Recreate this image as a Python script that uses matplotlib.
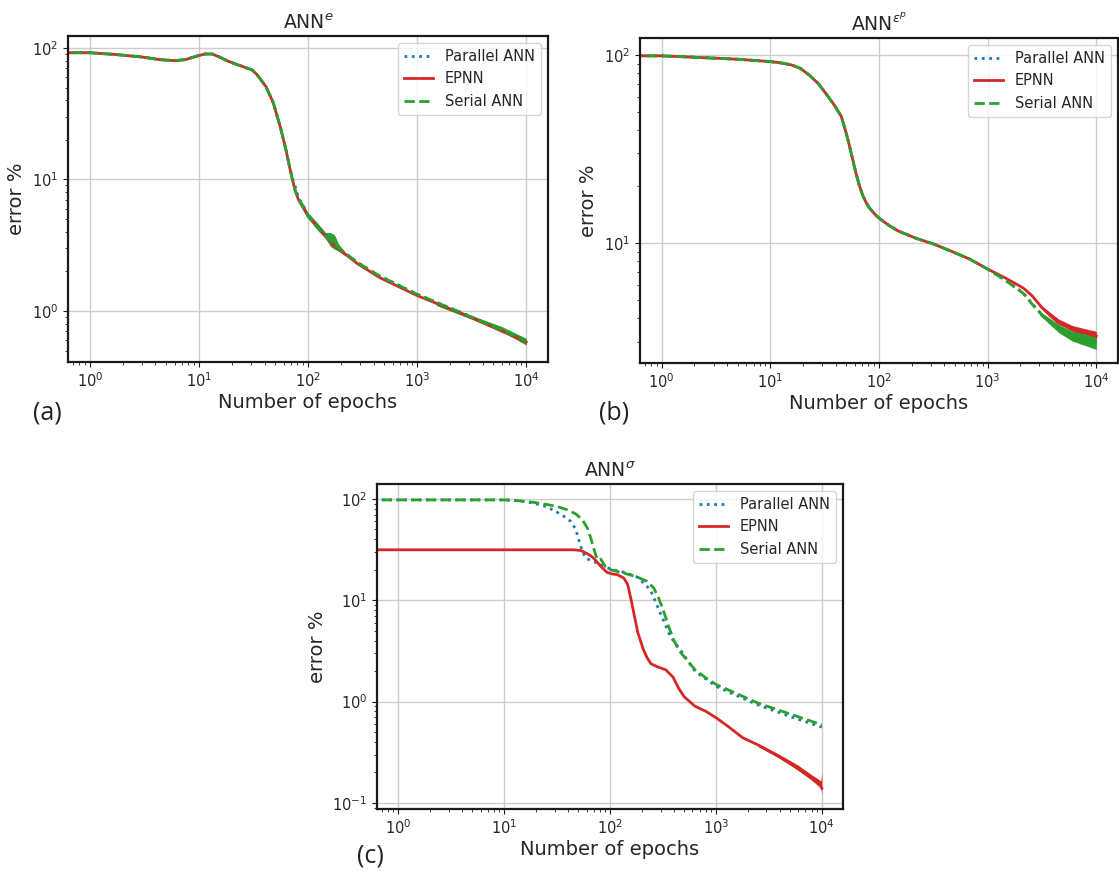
import matplotlib
matplotlib.use("Agg")
import matplotlib.pyplot as plt

W, H = 1119, 877

# ---- panel (a): ANN^e ----
epochs_a = [0, 1, 1.77, 3.0, 4.4, 6.0, 7.5, 9.4, 11.4, 13.2, 15.4, 18.6, 22.5, 27.2, 30.5, 34.1,
            41.3, 48.1, 56, 62.7, 67.6, 71.9, 75.8, 81.8, 91.6, 100, 115, 134, 156, 181, 228,
            286, 451, 1000, 2790, 10000]
serial_a = [92, 92, 89, 85.4, 81.5, 80.1, 81.5, 86.4, 90, 90, 85.4, 79.2, 74.7, 70.5, 68.4, 62.7,
            50.6, 38.2, 24.7, 16.9, 12.6, 10, 8.4, 7.05, 6.1, 5.27, 4.55, 3.93, 3.5, 3.12, 2.69,
            2.33, 1.85, 1.34, 0.94, 0.59]
parallel_a = [92, 92, 89, 85.4, 81.5, 80.1, 81.5, 86.4, 90, 90, 85.4, 79.2, 74.7, 70.5, 68.4, 62.7,
              50.6, 38.2, 24.7, 16.9, 12.6, 10.2, 9.0, 7.3, 6.2, 5.35, 4.6, 4.0, 3.55, 3.12, 2.69,
              2.33, 1.85, 1.34, 0.94, 0.59]
epnn_a = [92, 92, 89, 85.4, 81.5, 80.1, 81.5, 86.4, 90, 90, 85.4, 79.2, 74.7, 70.5, 68.4, 62.7,
          50.6, 38.2, 24.7, 16.9, 12.6, 10, 8.4, 7.0, 6.0, 5.25, 4.6, 3.95, 3.45, 3.05, 2.64,
          2.28, 1.8, 1.31, 0.93, 0.58]
# noisy envelope of the serial run
noise_a_epochs = [85, 100, 120, 145, 160, 175, 190, 220]
noise_a_low = [6.3, 5.1, 4.25, 3.55, 3.1, 2.95, 2.85, 2.63]
noise_a_high = [7.1, 5.6, 4.75, 3.95, 3.95, 3.8, 3.25, 2.78]
tail_a_epochs = [1500, 3000, 6000, 10000]
tail_a_low = [1.1, 0.88, 0.7, 0.55]
tail_a_high = [1.16, 0.94, 0.76, 0.62]

# ---- panel (b): ANN^eps_p ----
epochs_b = [0, 1, 2.35, 5.0, 9.96, 12.4, 15.6, 18.8, 22.7, 27.4, 33.1, 38.6, 44.9, 48.4, 52.2,
            56.3, 60.7, 65.5, 70.6, 76.2, 82.2, 92, 103, 124, 150, 220, 320, 468, 682, 1000,
            1455, 2120, 2560, 3100, 3740, 4520, 6600, 10000]
shared_b = [98.9, 98.9, 96.8, 94.9, 92.2, 90.8, 88.5, 85, 78.3, 70.8, 61.4, 54.3, 47.2, 40.9, 34.8,
            29, 24.1, 20.5, 18, 16.4, 15.3, 14.2, 13.4, 12.4, 11.6, 10.6, 9.88, 9.03, 8.23, 7.28]
epnn_b = shared_b + [6.53, 5.78, 5.26, 4.6, 4.13, 3.76, 3.44, 3.2]
serial_b = shared_b + [6.34, 5.42, 4.75, 4.2, 3.8, 3.51, 3.17, 2.95]
parallel_b = shared_b + [6.36, 5.45, 4.78, 4.22, 3.82, 3.53, 3.19, 2.97]
tail_b_epochs = [3000, 4500, 6000, 8000, 10000]
tail_b_red_low = [4.6, 3.72, 3.4, 3.2, 3.05]
tail_b_red_high = [4.75, 3.95, 3.65, 3.5, 3.4]
tail_b_green_low = [4.15, 3.35, 3.02, 2.85, 2.72]
tail_b_green_high = [4.35, 3.7, 3.4, 3.3, 3.2]

# ---- panel (c): ANN^sigma ----
epochs_c_par = [0, 10, 13.5, 18, 24, 30, 37, 42.8, 47.7, 51.2, 55, 59, 65.9, 76, 88, 101, 135,
                180, 208, 240, 268, 298, 332, 370, 462, 635, 1010, 2470, 5500, 10000]
parallel_c = [100, 98, 96, 92, 85.3, 76.8, 67, 59.8, 49.5, 38, 30.3, 26.1, 24.7, 23.3, 21.9, 20.3,
              18.9, 17, 14.8, 12.7, 9.8, 7.5, 5.8, 4.4, 3.24, 1.99, 1.41, 0.93, 0.69, 0.56]
epochs_c_epnn = [0, 46, 53, 61.3, 68.3, 76, 84.7, 94.4, 105, 117, 135, 147, 158, 170, 183, 207,
                 225, 244, 286, 336, 393, 444, 500, 635, 807, 1010, 1300, 1790, 2470, 3680, 5500,
                 7560, 9600, 10000]
epnn_c = [31.5, 31.5, 31, 28.8, 26.7, 23.7, 20.8, 18.8, 18.2, 17.9, 16.6, 14.3, 10.2, 7.0, 4.8,
          3.24, 2.69, 2.36, 2.19, 2.06, 1.75, 1.36, 1.12, 0.90, 0.80, 0.69, 0.57, 0.44, 0.376,
          0.30, 0.23, 0.183, 0.151, 0.14]
epochs_c_ser = [0, 10, 13.5, 18, 24, 32, 39.8, 47.7, 55, 61.3, 65.9, 70.8, 76, 81.8, 91, 101, 135,
                180, 224, 259, 288, 321, 357, 398, 444, 500, 635, 807, 1010, 1660, 2470, 5500,
                10000]
serial_c = [100, 98, 96.3, 93.4, 89.3, 84.1, 78, 71.1, 62.1, 51.4, 41, 31.5, 25.1, 25.5, 21.3, 20,
            18.6, 17, 15.4, 13.2, 10.5, 7.8, 5.55, 4.1, 3.24, 2.79, 2.06, 1.71, 1.47, 1.17, 0.97,
            0.73, 0.59]
tail_c_epochs = [2500, 4000, 6000, 8000, 9800, 10000]
tail_c_red_low = [0.36, 0.275, 0.21, 0.168, 0.14, 0.12]
tail_c_red_high = [0.385, 0.3, 0.235, 0.19, 0.165, 0.2]

labels = ["Parallel ANN", "EPNN", "Serial ANN"]
colors = ["#1f77b4", "#d62728", "#2ca02c"]
styles = [":", "-", "--"]
text_color = "#262626"

plt.rcParams["font.family"] = "DejaVu Sans"
plt.rcParams["mathtext.fontset"] = "dejavusans"

fig = plt.figure(figsize=(W / 100, H / 100), dpi=100)


def add_axes_px(left, top, right, bottom):
    return fig.add_axes([left / W, 1 - bottom / H, (right - left) / W, (bottom - top) / H])


def style_axes(ax, title, ylim):
    ax.set_xscale("log")
    ax.set_yscale("log")
    ax.set_xlim(10 ** -0.2, 10 ** 4.2)
    ax.set_ylim(*ylim)
    ax.grid(True, which="major", color="#cccccc", lw=1)
    ax.set_axisbelow(True)
    for sp in ax.spines.values():
        sp.set_linewidth(1.6)
        sp.set_color("#1a1a1a")
    ax.tick_params(which="both", colors="#1a1a1a", labelcolor=text_color, labelsize=10.5)
    ax.set_title(title, fontsize=13.5, color=text_color, pad=5)
    ax.set_xlabel("Number of epochs", fontsize=14, color=text_color, labelpad=2)
    ax.set_ylabel("error %", fontsize=14, color=text_color)
    leg = ax.legend(loc="upper right", fontsize=10.5)
    for t in leg.get_texts():
        t.set_color(text_color)


def plot_series(ax, xs, ys):
    for x, y, lab, c, ls in zip(xs, ys, labels, colors, styles):
        ax.plot(x, y, ls, color=c, lw=2, label=lab)


# (a)
ax = add_axes_px(68, 36, 548, 362)
plot_series(ax, [epochs_a] * 3, [parallel_a, epnn_a, serial_a])
ax.fill_between(noise_a_epochs, noise_a_low, noise_a_high, color=colors[2], lw=0)
ax.fill_between(tail_a_epochs, tail_a_low, tail_a_high, color=colors[2], lw=0)
style_axes(ax, r"ANN$^{e}$", (10 ** -0.388, 10 ** 2.091))

# (b)
ax = add_axes_px(640, 38, 1118, 363)
plot_series(ax, [epochs_b] * 3, [parallel_b, epnn_b, serial_b])
ax.fill_between(tail_b_epochs, tail_b_red_low, tail_b_red_high, color=colors[1], lw=0)
ax.fill_between(tail_b_epochs, tail_b_green_low, tail_b_green_high, color=colors[2], lw=0)
style_axes(ax, r"ANN$^{\varepsilon^p}$", (10 ** 0.363, 10 ** 2.09))

# (c)
ax = add_axes_px(377, 484, 843, 809)
plot_series(ax, [epochs_c_par, epochs_c_epnn, epochs_c_ser], [parallel_c, epnn_c, serial_c])
ax.fill_between(tail_c_epochs, tail_c_red_low, tail_c_red_high, color=colors[1], lw=0)
style_axes(ax, r"ANN$^{\sigma}$", (10 ** -1.06, 10 ** 2.148))

for lab, x, y in [("(a)", 47, 413), ("(b)", 614, 413), ("(c)", 370, 856)]:
    fig.text(x / W, 1 - y / H, lab, fontsize=18, family=["Open Sans", "DejaVu Sans"],
             color="#222222", ha="center", va="center")

fig.savefig("out.png", dpi=100)
